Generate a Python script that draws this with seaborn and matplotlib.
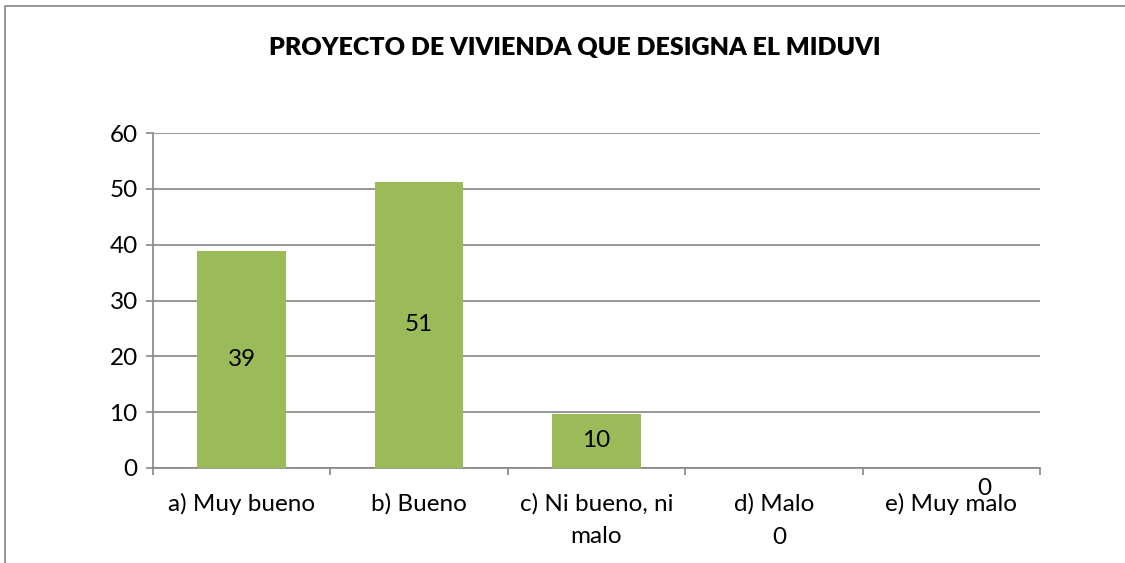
import pandas as pd
import seaborn as sns
import matplotlib.pyplot as plt

# datos
categorias = ['a) Muy bueno', 'b) Bueno', 'c) Ni bueno, ni\nmalo', 'd) Malo', 'e) Muy malo']
valores = [38.9, 51.3, 9.7, 0, 0]
etiquetas = ['39', '51', '10', '0', '0']

df = pd.DataFrame({'categoria': categorias, 'valor': valores})

sns.set_theme(style="white")
plt.rcParams['font.family'] = ['Lato', 'DejaVu Sans']

fig = plt.figure(figsize=(11.25, 5.63), dpi=100)
ax = fig.add_axes([153 / 1125, 1 - 468 / 563, 887 / 1125, 335 / 563])

gris = '#868686'
sns.barplot(data=df, x='categoria', y='valor', color='#9BBB59', width=0.5,
            saturation=1, linewidth=0, ax=ax, zorder=3)

ax.set_xlim(-0.5, 4.5)
ax.set_ylim(0, 60)
ax.set_yticks(range(0, 61, 10))
ax.yaxis.grid(True, color=gris, linewidth=1.2, zorder=0)
ax.set_xlabel('')
ax.set_ylabel('')

for lado in ['top', 'right']:
    ax.spines[lado].set_visible(False)
for lado in ['left', 'bottom']:
    ax.spines[lado].set_color(gris)
    ax.spines[lado].set_linewidth(1.2)

# marcas del eje x entre categorias
ax.set_xticks([i - 0.5 for i in range(6)], minor=True)
ax.tick_params(axis='x', which='minor', length=5, color=gris, width=1.2, direction='out', bottom=True)
ax.tick_params(axis='x', which='major', length=0, labelsize=17.5, pad=18, colors='black')
ax.tick_params(axis='y', length=5, color=gris, width=1.2, labelsize=17.5, pad=6, left=True, colors='black')
for lbl in ax.get_xticklabels():
    lbl.set_linespacing(1.7)
    lbl.set_verticalalignment('top')

# etiquetas de datos
for i, (v, t) in enumerate(zip(valores, etiquetas)):
    if v > 0:
        ax.text(i, v / 2, t, ha='center', va='center', fontsize=17.5, color='black', zorder=4)
ax.annotate(etiquetas[3], (3, 0), xytext=(4, -50), textcoords='offset points',
            ha='center', va='center', fontsize=17.5, color='black', annotation_clip=False)
ax.annotate(etiquetas[4], (4, 0), xytext=(24, -15), textcoords='offset points',
            ha='center', va='center', fontsize=17.5, color='black', annotation_clip=False)

fig.text(575 / 1125, 1 - 48 / 563, 'PROYECTO DE VIVIENDA QUE DESIGNA EL MIDUVI',
         ha='center', va='center', fontsize=18, fontweight='heavy', color='black')

# marco del grafico
marco = plt.Rectangle((5 / 1125, -0.1), 1.2, 1 - 6 / 563 + 0.1, transform=fig.transFigure,
                      fill=False, edgecolor=gris, linewidth=1.2)
fig.add_artist(marco)

plt.savefig('out.png', dpi=100)
